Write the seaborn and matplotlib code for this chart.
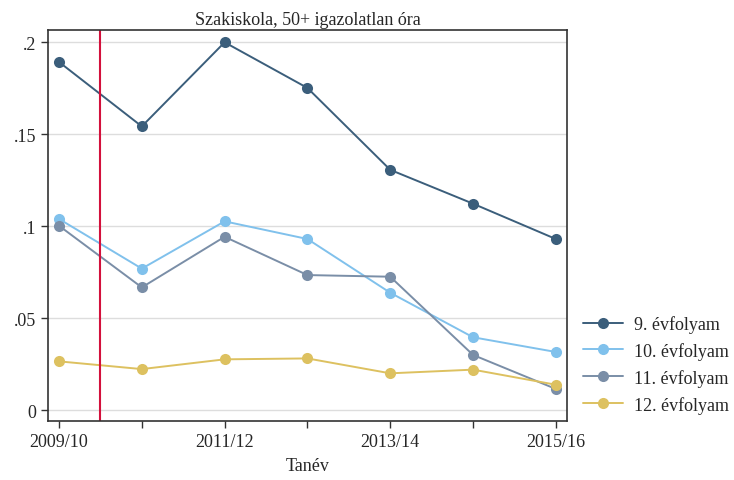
import matplotlib
matplotlib.use("Agg")
import matplotlib.pyplot as plt
import pandas as pd
import seaborn as sns

# values
years = ["2009/10", "2010/11", "2011/12", "2012/13", "2013/14", "2014/15", "2015/16"]
grade9 = [0.1893, 0.1543, 0.2000, 0.1752, 0.1307, 0.1123, 0.0931]
grade10 = [0.1040, 0.0770, 0.1027, 0.0931, 0.0639, 0.0397, 0.0317]
grade11 = [0.1003, 0.0668, 0.0943, 0.0735, 0.0726, 0.0301, 0.0116]
grade12 = [0.0266, 0.0224, 0.0277, 0.0282, 0.0201, 0.0221, 0.0139]
labels = ["9. évfolyam", "10. évfolyam", "11. évfolyam", "12. évfolyam"]
colors = ["#3b5e7b", "#80c1ec", "#7a8ea7", "#ddc160"]
reform_x = 0.5  # vertical marker between 2009/10 and 2010/11

sns.set_theme(style="white")
plt.rcParams["font.family"] = ["Liberation Serif", "DejaVu Serif"]

rows = []
for lab, vals in zip(labels, [grade9, grade10, grade11, grade12]):
    for i, v in enumerate(vals):
        rows.append({"idx": i, "val": v, "grade": lab})
df = pd.DataFrame(rows)

fig, ax = plt.subplots(figsize=(7.34, 4.81), dpi=100)
fig.subplots_adjust(left=0.0654, right=0.7725, top=0.9356, bottom=0.1227)

ax.grid(axis="y", color="#dddddd", linewidth=1)
ax.set_axisbelow(True)
sns.lineplot(
    data=df, x="idx", y="val", hue="grade", hue_order=labels, palette=colors,
    marker="o", markersize=8, markeredgewidth=0, linewidth=1.4, ax=ax,
)
ax.axvline(reform_x, color="#d3103c", linewidth=1.5)

ax.set_xlim(-0.133, 6.135)
ax.set_ylim(-0.0058, 0.2067)
ax.set_xticks(range(len(years)))
ax.set_xticklabels([y if i % 2 == 0 else "" for i, y in enumerate(years)], fontsize=13)
ax.set_yticks([0, 0.05, 0.1, 0.15, 0.2])
ax.set_yticklabels(["0", ".05", ".1", ".15", ".2"], fontsize=13)
ax.tick_params(axis="both", length=5, width=1, color="#333333", bottom=True, left=True)
for s in ax.spines.values():
    s.set_color("#333333")
    s.set_linewidth(1.2)

ax.set_xlabel("Tanév", fontsize=13, labelpad=5)
ax.set_ylabel("")
ax.set_title("Szakiskola, 50+ igazolatlan óra", fontsize=13, pad=4)

ax.legend(
    loc="center left", bbox_to_anchor=(1.031, 0.145), frameon=False,
    borderaxespad=0, borderpad=0, fontsize=13, handlelength=2.2,
    handletextpad=0.6, labelspacing=0.5,
)

fig.savefig("out.png", dpi=100)
